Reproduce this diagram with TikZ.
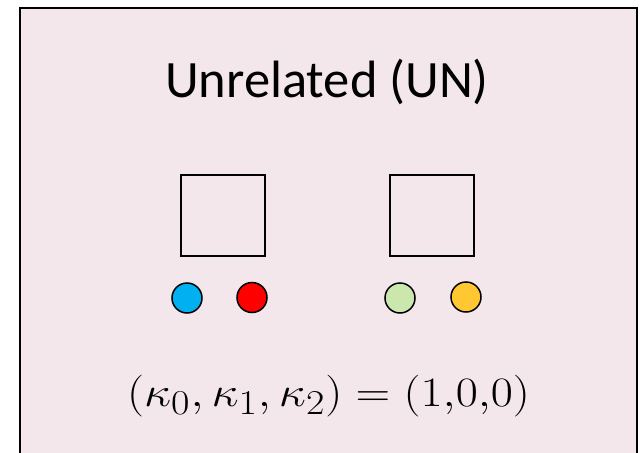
\documentclass[tikz,border=0pt]{standalone}
\usepackage{fontspec}
\newfontfamily\titlefont{Carlito}
\definecolor{bgpink}{HTML}{F4E7EC}
\definecolor{cblue}{HTML}{00B0F0}
\definecolor{cred}{HTML}{FF0000}
\definecolor{cgreen}{HTML}{CBE7AE}
\definecolor{cyellow}{HTML}{FFC832}
\tikzset{
  frame/.style={draw=black, line width=2pt, fill=bgpink},
  sqbox/.style={draw=black, line width=1.5pt, minimum width=84pt, minimum height=81pt, inner sep=0pt},
  dot/.style={circle, draw=black, line width=1.5pt, minimum size=30pt, inner sep=0pt},
}
\begin{document}
\begin{tikzpicture}[x=1pt, y=-1pt]
\useasboundingbox (0,0) rectangle (641,453);
\fill[white] (0,0) rectangle (641,453);
\draw[frame] (20,7.5) rectangle (637,470);
\node[anchor=base, inner sep=0pt, font=\titlefont\fontsize{52.5}{60}\selectfont] (title) at (327,97) {Unrelated (UN)};
\node[sqbox] (sqL) at (223,215.5) {};
\node[sqbox] (sqR) at (432,215.5) {};
\node[dot, fill=cblue] (c1) at (187,298) {};
\node[dot, fill=cred] (c2) at (252,297.5) {};
\node[dot, fill=cgreen] (c3) at (400,298) {};
\node[dot, fill=cyellow] (c4) at (466,297) {};
\node[anchor=base, inner sep=0pt, font=\Huge, xscale=1.93, yscale=1.68] (formula) at (328.5,406) {$(\kappa_0,\kappa_1,\kappa_2) = (1{,}0{,}0)$};
\end{tikzpicture}
\end{document}
